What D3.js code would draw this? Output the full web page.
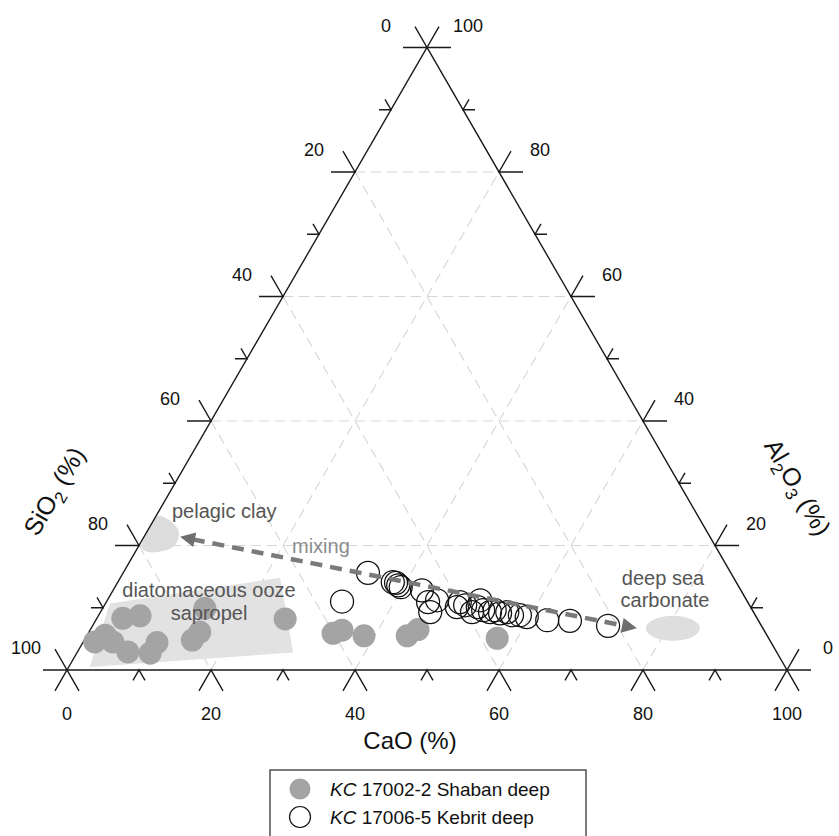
<!DOCTYPE html>
<html><head><meta charset="utf-8">
<script src="https://cdn.jsdelivr.net/npm/d3@7"></script>
<style>body{margin:0;background:#fff}svg{display:block;font-family:"Liberation Sans",Arial,sans-serif}</style>
</head><body><svg id="c" width="839" height="836"></svg>
<script>
// ---- data: compositions as [SiO2, CaO, Al2O3] in % ----
const tickValues = [0,10,20,30,40,50,60,70,80,90,100];
const labelValues = [0,20,40,60,80,100];
const gridValues = [20,40,60,80];

const shaban = [ // KC 17002-2 Shaban deep
  [85.5,5.8,8.7],[88.1,3.6,8.3],[91.9,2.5,5.6],[93.9,1.6,4.5],[91.4,4.1,4.5],
  [90.1,7.0,2.9],[85.3,10.3,4.4],[87.1,10.2,2.7],[80.2,15.0,4.8],[78.5,15.4,6.1],
  [75.9,14.2,9.9],[65.6,26.2,8.2],
  [60.1,34.0,5.9],[58.6,35.0,6.4],[56.0,38.5,5.5],[50.0,44.5,5.5],[48.0,45.5,6.5],
  [37.7,57.2,5.1]
];
const kebrit = [ // KC 17006-5 Kebrit deep
  [50.4,34.0,15.6],[56.3,32.7,11.0],[47.7,38.2,14.1],[47.3,38.7,14.0],[47.2,39.2,13.6],
  [47.0,39.7,13.3],[44.3,42.9,12.8],[44.4,44.7,10.9],[43.0,45.8,11.2],[44.9,45.8,9.3],
  [40.8,49.1,10.1],[40.0,49.1,10.9],[39.5,50.1,10.4],[39.1,51.6,9.3],[37.9,52.0,10.1],
  [37.0,51.8,11.2],[37.4,53.0,9.6],[36.6,54.1,9.3],[35.8,54.6,9.6],[35.3,55.6,9.1],
  [34.2,56.5,9.3],[33.8,57.4,8.8],[32.7,58.5,8.8],[31.9,59.6,8.5],[29.3,62.7,8.0],
  [26.2,65.9,7.9],[21.3,71.6,7.1]
];
const pelagicClay = [[79.7,0.4,19.9],[77.0,0.1,22.9],[75.1,0.2,24.7],[73.9,1.9,24.2],
  [73.3,4.2,22.5],[74.5,5.0,20.5],[76.4,4.3,19.3],[79.0,2.1,18.9]];
const oozeSapropel = [[88.7,0.6,10.7],[63.0,22.2,14.8],[67.2,30.0,2.8],[96.6,2.9,0.5]];
const deepSeaCarbonate = [12.5,80.8,6.7];
const mixingArrow = [[73.6,5.0,21.4],[17.5,75.8,6.7]];
const legendLabels = [["KC"," 17002-2 Shaban deep"],["KC"," 17006-5 Kebrit deep"]];

// ---- scales ----
const svg = d3.select("#c");
const xS = d3.scaleLinear().domain([0,100]).range([67,787]);   // CaO + Al2O3/2
const yS = d3.scaleLinear().domain([0,100]).range([670,47.5]); // Al2O3
const P = d => [xS(d[1] + d[2]/2), yS(d[2])];
const line = d3.line();
const S3 = Math.sqrt(3)/2;

// grid
const g = svg.append("g").attr("stroke","#d6d6d6").attr("stroke-width",1.1).attr("stroke-dasharray","10,6").attr("fill","none");
gridValues.forEach(v=>{
  g.append("path").attr("d", line([P([100-v,0,v]),P([0,100-v,v])]));
  g.append("path").attr("d", line([P([v,0,100-v]),P([v,100-v,0])]));
  g.append("path").attr("d", line([P([100-v,v,0]),P([0,v,100-v])]));
});

// shaded regions
svg.append("path").attr("d", line(oozeSapropel.map(P))+"Z").attr("fill","#e2e2e2");
svg.append("path").attr("d", d3.line().curve(d3.curveCardinalClosed)(pelagicClay.map(P))).attr("fill","#dcdcdc");
const dc = P(deepSeaCarbonate);
svg.append("ellipse").attr("cx",dc[0]).attr("cy",dc[1]).attr("rx",27).attr("ry",12.5).attr("fill","#dedede");

// triangle
svg.append("path").attr("d", line([P([100,0,0]),P([0,100,0]),P([0,0,100])])+"Z")
  .attr("fill","none").attr("stroke","#1a1a1a").attr("stroke-width",1.4);

// ticks
const tk = svg.append("g").attr("stroke","#1a1a1a").attr("stroke-width",1.4).attr("fill","none");
tickValues.forEach(v=>{
  const L = v%20===0 ? 24 : 12;
  let p = P([v,0,100-v]); // SiO2 on left
  tk.append("path").attr("d", line([[p[0]-L,p[1]],p,[p[0]-L/2,p[1]-L*S3]]));
  p = P([0,100-v,v]);     // Al2O3 on right
  tk.append("path").attr("d", line([[p[0]+L,p[1]],p,[p[0]+L/2,p[1]-L*S3]]));
  p = P([100-v,v,0]);     // CaO on bottom
  tk.append("path").attr("d", line([[p[0]-L/2,p[1]+L*S3],p,[p[0]+L/2,p[1]+L*S3]]));
});
const tl = svg.append("g").attr("font-size",18).attr("fill","#111").attr("text-anchor","middle");
labelValues.forEach(v=>{
  let p = P([v,0,100-v]);
  tl.append("text").attr("x",p[0]-41).attr("y",p[1]-22+6).text(v);
  p = P([0,100-v,v]);
  tl.append("text").attr("x",p[0]+41).attr("y",p[1]-22+6).text(v);
  p = P([100-v,v,0]);
  tl.append("text").attr("x",p[0]).attr("y",p[1]+44+6).text(v);
});

// points
svg.append("g").selectAll("circle").data(shaban).join("circle")
  .attr("cx",d=>P(d)[0]).attr("cy",d=>P(d)[1]).attr("r",11.5).attr("fill","#a4a4a4");
svg.append("g").selectAll("circle").data(kebrit).join("circle")
  .attr("cx",d=>P(d)[0]).attr("cy",d=>P(d)[1]).attr("r",11.5).attr("fill","none").attr("stroke","#111").attr("stroke-width",1.25);

// mixing arrow
const a0 = P(mixingArrow[0]), a1 = P(mixingArrow[1]);
const ang = Math.atan2(a1[1]-a0[1], a1[0]-a0[0]);
const H = 15, W = 7.5;
const off = (p,d)=>[p[0]+Math.cos(ang)*d, p[1]+Math.sin(ang)*d];
svg.append("path").attr("d", line([off(a0,H-2), off(a1,-(H-2))]))
  .attr("stroke","#7a7a7a").attr("stroke-width",4.5).attr("stroke-dasharray","12,8").attr("fill","none");
function head(tip, dir){
  const b = [tip[0]+Math.cos(ang)*H*dir, tip[1]+Math.sin(ang)*H*dir];
  const nx = -Math.sin(ang)*W, ny = Math.cos(ang)*W;
  svg.append("path").attr("d", line([tip,[b[0]+nx,b[1]+ny],[b[0]-nx,b[1]-ny]])+"Z").attr("fill","#6e6e6e");
}
head(a0,1); head(a1,-1);

// annotations
const ann = svg.append("g").attr("font-size",20).attr("fill","#555");
ann.append("text").attr("x",172).attr("y",518).text("pelagic clay");
ann.append("text").attr("x",292).attr("y",553).attr("fill","#8c8c8c").text("mixing");
ann.append("text").attr("x",209).attr("y",597).attr("text-anchor","middle").text("diatomaceous ooze");
ann.append("text").attr("x",209).attr("y",620).attr("text-anchor","middle").text("sapropel");
ann.append("text").attr("x",663).attr("y",585).attr("text-anchor","middle").text("deep sea");
ann.append("text").attr("x",665).attr("y",607).attr("text-anchor","middle").text("carbonate");

// axis titles
svg.append("text").attr("x",410).attr("y",749).attr("text-anchor","middle").attr("font-size",24).attr("fill","#111").text("CaO (%)");
const t1 = svg.append("text").attr("transform","translate(54,491) rotate(-60)").attr("y",9)
  .attr("text-anchor","middle").attr("font-size",25).attr("fill","#111");
t1.append("tspan").text("SiO");
t1.append("tspan").attr("font-size",17).attr("dy",6).text("2");
t1.append("tspan").attr("dy",-6).text(" (%)");
const t2 = svg.append("text").attr("transform","translate(798,487) rotate(60)").attr("y",9)
  .attr("text-anchor","middle").attr("font-size",25).attr("fill","#111");
t2.append("tspan").text("Al");
t2.append("tspan").attr("font-size",17).attr("dy",6).text("2");
t2.append("tspan").attr("dy",-6).text("O");
t2.append("tspan").attr("font-size",17).attr("dy",6).text("3");
t2.append("tspan").attr("dy",-6).text(" (%)");

// legend
const lg = svg.append("g");
lg.append("rect").attr("x",270).attr("y",770).attr("width",316).attr("height",90).attr("fill","#fff").attr("stroke","#222").attr("stroke-width",1.2);
lg.append("circle").attr("cx",300).attr("cy",789).attr("r",10.5).attr("fill","#a4a4a4");
lg.append("circle").attr("cx",300).attr("cy",817).attr("r",10.5).attr("fill","none").attr("stroke","#111").attr("stroke-width",1.2);
legendLabels.forEach((l,i)=>{
  const t = lg.append("text").attr("x",330).attr("y",796+i*28).attr("font-size",19).attr("fill","#111");
  t.append("tspan").attr("font-style","italic").text(l[0]);
  t.append("tspan").text(l[1]);
});
</script></body></html>
